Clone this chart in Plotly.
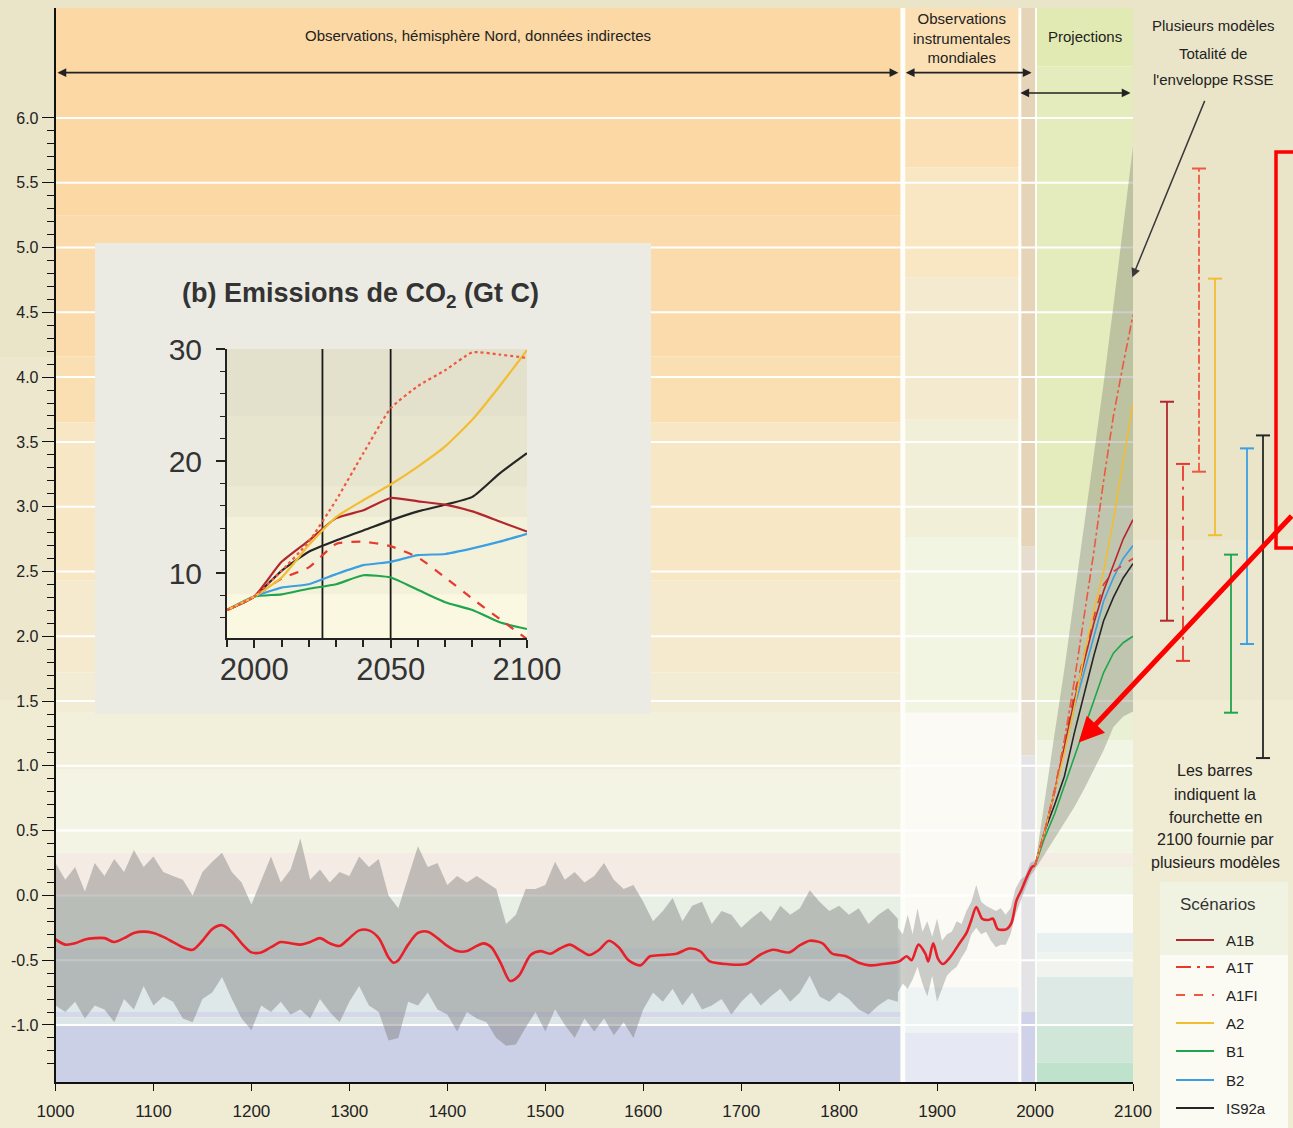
import plotly.graph_objects as go

W, H = 1293, 1128
FONT = "Liberation Sans, Arial, sans-serif"

# ------------------------------------------------------------------ data
# Smoothed northern-hemisphere reconstruction + instrumental record (red line)
recon_years = [1000, 1010, 1020, 1030, 1040, 1050, 1060, 1070, 1080, 1090, 1100, 1110,
               1120, 1130, 1140, 1150, 1160, 1170, 1180, 1190, 1200, 1210, 1220, 1230,
               1240, 1250, 1260, 1270, 1280, 1290, 1300, 1310, 1320, 1330, 1340, 1345,
               1350, 1360, 1370, 1380, 1390, 1400, 1410, 1420, 1430, 1437, 1445, 1455,
               1464, 1473, 1485, 1495, 1505, 1515, 1525, 1535, 1545, 1555, 1565, 1575,
               1585, 1597, 1607, 1620, 1634, 1647, 1658, 1668, 1685, 1705, 1719, 1732,
               1749, 1759, 1770, 1783, 1793, 1807, 1820, 1831, 1844, 1861, 1869, 1874,
               1881, 1888, 1891, 1896, 1901, 1906, 1913, 1922, 1930, 1935, 1940, 1946,
               1952, 1957, 1962, 1971, 1976, 1981, 1986, 1991, 1997, 2000]
recon_values = [-0.34, -0.38, -0.37, -0.34, -0.33, -0.33, -0.36, -0.33, -0.29, -0.28, -0.29, -0.32,
                -0.36, -0.40, -0.42, -0.35, -0.26, -0.23, -0.28, -0.37, -0.44, -0.44, -0.40, -0.36,
                -0.37, -0.38, -0.36, -0.33, -0.37, -0.39, -0.33, -0.27, -0.27, -0.33, -0.48, -0.52,
                -0.50, -0.38, -0.29, -0.28, -0.33, -0.39, -0.43, -0.43, -0.39, -0.37, -0.40, -0.53,
                -0.66, -0.62, -0.46, -0.43, -0.45, -0.41, -0.38, -0.42, -0.46, -0.42, -0.35, -0.40,
                -0.50, -0.54, -0.47, -0.46, -0.45, -0.41, -0.43, -0.51, -0.53, -0.53, -0.46, -0.42,
                -0.44, -0.39, -0.35, -0.37, -0.45, -0.47, -0.52, -0.54, -0.53, -0.51, -0.47, -0.50,
                -0.38, -0.45, -0.51, -0.37, -0.49, -0.53, -0.48, -0.38, -0.29, -0.19, -0.09, -0.18,
                -0.19, -0.18, -0.26, -0.26, -0.21, -0.04, 0.04, 0.13, 0.22, 0.23]

# Uncertainty envelope of the proxy reconstruction (grey band)
paleo_years = list(range(1000, 1861, 10))
paleo_upper = [0.25, 0.12, 0.22, 0.03, 0.25, 0.15, 0.28, 0.18, 0.35, 0.22, 0.30, 0.18,
               0.15, 0.12, 0.00, 0.18, 0.26, 0.33, 0.18, 0.10, -0.07, 0.12, 0.30, 0.10,
               0.20, 0.44, 0.12, 0.20, 0.10, 0.18, 0.15, 0.30, 0.22, 0.28, 0.00, -0.10,
               0.15, 0.38, 0.22, 0.25, 0.08, 0.15, 0.10, 0.15, 0.10, 0.05, -0.22, -0.15,
               0.05, 0.05, 0.08, 0.26, 0.12, 0.18, 0.10, 0.15, 0.25, 0.12, 0.05, 0.08,
               -0.05, -0.20, -0.12, -0.02, -0.20, -0.08, -0.05, -0.22, -0.12, -0.15, -0.25, -0.18,
               -0.12, -0.20, -0.08, -0.15, -0.10, 0.04, -0.05, -0.12, -0.08, -0.15, -0.10, -0.22,
               -0.15, -0.10, -0.18]
paleo_lower = [-0.85, -0.90, -0.82, -0.95, -0.85, -0.88, -0.98, -0.80, -0.88, -0.70, -0.85, -0.78,
               -0.82, -0.95, -0.98, -0.80, -0.75, -0.63, -0.80, -0.95, -1.04, -0.85, -0.90, -0.82,
               -0.92, -0.88, -0.95, -0.80, -0.90, -0.98, -0.82, -0.70, -0.85, -0.90, -1.12, -1.10,
               -0.82, -0.85, -0.75, -0.88, -0.92, -1.05, -0.90, -0.95, -0.98, -1.10, -1.16, -1.15,
               -1.02, -0.90, -1.05, -0.88, -1.00, -1.10, -0.95, -1.05, -0.95, -1.08, -0.98, -1.10,
               -0.88, -0.75, -0.82, -0.72, -0.85, -0.75, -0.88, -0.85, -0.80, -0.92, -0.82, -0.75,
               -0.85, -0.78, -0.72, -0.82, -0.75, -0.62, -0.78, -0.82, -0.75, -0.80, -0.88, -0.92,
               -0.85, -0.80, -0.82]

# Instrumental-period spread (grey)
instr_years = [1860, 1865, 1870, 1875, 1880, 1885, 1890, 1895, 1900, 1905, 1910, 1915, 1920,
               1925, 1930, 1935, 1940, 1945, 1950, 1955, 1960, 1965, 1970, 1975, 1980, 1985,
               1990, 1995, 2000]
instr_upper = [-0.25, -0.30, -0.15, -0.30, -0.10, -0.28, -0.20, -0.32, -0.18, -0.35, -0.30, -0.28,
               -0.20, -0.22, -0.12, -0.05, 0.08, -0.05, -0.08, -0.10, -0.12, -0.10, -0.15, -0.10,
               0.05, 0.12, 0.15, 0.25, 0.27]
instr_lower = [-0.75, -0.68, -0.72, -0.65, -0.55, -0.68, -0.78, -0.62, -0.82, -0.72, -0.62, -0.58,
               -0.55, -0.48, -0.42, -0.30, -0.25, -0.30, -0.28, -0.35, -0.40, -0.38, -0.38, -0.30,
               -0.15, -0.05, 0.05, 0.15, 0.20]

# Projections 2000-2100: full multi-model SRES envelope and scenario means
proj_years = [2000, 2010, 2020, 2030, 2040, 2050, 2060, 2070, 2080, 2090, 2100]
proj_upper = [0.23, 0.75, 1.25, 1.75, 2.30, 2.85, 3.40, 3.95, 4.55, 5.15, 5.78]
proj_lower = [0.20, 0.32, 0.43, 0.56, 0.68, 0.82, 0.97, 1.12, 1.30, 1.38, 1.42]
proj_A1B = [0.23, 0.50, 0.80, 1.15, 1.50, 1.80, 2.10, 2.35, 2.55, 2.75, 2.90]
proj_A1T = [0.23, 0.50, 0.82, 1.18, 1.55, 1.85, 2.15, 2.40, 2.50, 2.55, 2.60]
proj_A1FI = [0.23, 0.50, 0.80, 1.20, 1.65, 2.15, 2.65, 3.20, 3.70, 4.10, 4.48]
proj_A2 = [0.23, 0.50, 0.80, 1.10, 1.45, 1.85, 2.20, 2.50, 2.90, 3.35, 3.80]
proj_B1 = [0.23, 0.45, 0.63, 0.85, 1.07, 1.28, 1.50, 1.72, 1.87, 1.95, 2.00]
proj_B2 = [0.23, 0.50, 0.80, 1.12, 1.45, 1.72, 2.00, 2.27, 2.45, 2.60, 2.70]
proj_IS92a = [0.23, 0.50, 0.70, 0.92, 1.25, 1.55, 1.85, 2.12, 2.30, 2.45, 2.56]

# Ranges in 2100 given by several models (bars)
scenario_names = ["A1B", "A1T", "A1FI", "A2", "B1", "B2", "IS92a"]
bar_low = [2.12, 1.81, 3.27, 2.78, 1.41, 1.94, 1.06]
bar_high = [3.81, 3.33, 5.61, 4.76, 2.63, 3.45, 3.55]

# Inset (b): CO2 emissions (Gt C)
co2_years = [1990, 2000, 2010, 2020, 2030, 2040, 2050, 2060, 2070, 2080, 2090, 2100]
co2_A1B = [6.7, 7.9, 11.0, 12.9, 14.9, 15.6, 16.7, 16.4, 16.1, 15.5, 14.6, 13.7]
co2_A1T = [6.7, 7.9, 9.5, 10.5, 12.6, 12.8, 12.4, 11.4, 9.6, 7.7, 5.9, 4.1]
co2_A1FI = [6.7, 7.9, 10.2, 12.8, 16.5, 20.7, 24.7, 26.7, 28.1, 29.7, 29.5, 29.2]
co2_A2 = [6.7, 7.9, 9.6, 12.5, 15.0, 16.5, 17.9, 19.5, 21.3, 23.7, 26.7, 29.9]
co2_B1 = [6.7, 7.9, 8.1, 8.6, 9.0, 9.8, 9.6, 8.5, 7.4, 6.7, 5.6, 5.0]
co2_B2 = [6.7, 7.9, 8.7, 9.0, 9.9, 10.7, 11.0, 11.6, 11.7, 12.2, 12.8, 13.5]
co2_IS92a = [6.7, 7.9, 10.2, 11.9, 12.9, 13.8, 14.7, 15.5, 16.1, 16.8, 18.9, 20.7]
co2_marker_years = [2025, 2050]

# Tick labels
x_tick_vals = [1000, 1100, 1200, 1300, 1400, 1500, 1600, 1700, 1800, 1900, 2000, 2100]
x_tick_text = ["1000", "1100", "1200", "1300", "1400", "1500", "1600", "1700", "1800",
               "1900", "2000", "2100"]
y_tick_vals = [-1.0, -0.5, 0.0, 0.5, 1.0, 1.5, 2.0, 2.5, 3.0, 3.5, 4.0, 4.5, 5.0, 5.5, 6.0]
y_tick_text = ["-1.0", "-0.5", "0.0", "0.5", "1.0", "1.5", "2.0", "2.5", "3.0", "3.5",
               "4.0", "4.5", "5.0", "5.5", "6.0"]
inset_x_ticks = [2000, 2050, 2100]
inset_y_ticks = [10, 20, 30]

# ------------------------------------------------------------------ styles
scen_style = {
    "A1B": dict(color="#b3262d", dash="solid"),
    "A1T": dict(color="#e8392e", dash="dash"),
    "A1FI": dict(color="#ef5840", dash="dashdot"),
    "A2": dict(color="#f2bd32", dash="solid"),
    "B1": dict(color="#1fa54d", dash="solid"),
    "B2": dict(color="#3b9fe1", dash="solid"),
    "IS92a": dict(color="#262626", dash="solid"),
}
bar_dash = {"A1T": "longdashdot", "A1FI": "dashdot"}
legend_dash = {"A1T": "longdashdot", "A1FI": "dash"}
inset_dash = {"A1T": "dash", "A1FI": "dot"}

# geometry (pixels of the 1293x1128 canvas)
X0, X1 = 55.5 / W, 1133 / W
Y0, Y1 = (H - 1082) / H, (H - 8) / H
YMIN, YMAX = -1.4402, 6.8488
IX0, IX1 = 227 / W, 527 / W
IY0, IY1 = (H - 638) / H, (H - 349) / H
IYMIN, IYMAX = 4.2, 30.0


def vp(v):
    """main-axis value -> paper y (for background decorations)"""
    return Y0 + (v - YMIN) / (YMAX - YMIN) * (Y1 - Y0)


def ivp(v):
    return IY0 + (v - IYMIN) / (IYMAX - IYMIN) * (IY1 - IY0)


def px(x):
    return x / W


def py(y):
    return 1 - y / H


fig = go.Figure()

# ------------------------------------------------------------------ main traces
GREY = "rgba(118,118,118,0.42)"
for xs, lo, hi, col in [(paleo_years, paleo_lower, paleo_upper, GREY),
                        (instr_years, instr_lower, instr_upper, "rgba(125,125,125,0.38)"),
                        (proj_years, proj_lower, proj_upper, "rgba(125,125,115,0.38)")]:
    fig.add_trace(go.Scatter(x=xs, y=lo, mode="lines", line=dict(width=0),
                             hoverinfo="skip", showlegend=False))
    fig.add_trace(go.Scatter(x=xs, y=hi, mode="lines", line=dict(width=0), fill="tonexty",
                             fillcolor=col, hoverinfo="skip", showlegend=False))

fig.add_trace(go.Scatter(x=recon_years, y=recon_values, mode="lines",
                         line=dict(color="#e8202a", width=2.6, shape="spline", smoothing=0.8),
                         name="Observations", showlegend=False))

proj_series = [("B1", proj_B1), ("IS92a", proj_IS92a), ("B2", proj_B2), ("A1T", proj_A1T),
               ("A1B", proj_A1B), ("A2", proj_A2), ("A1FI", proj_A1FI)]
for name, vals in proj_series:
    st = scen_style[name]
    fig.add_trace(go.Scatter(x=proj_years, y=vals, mode="lines", name=name,
                             line=dict(color=st["color"], width=1.6, dash=st["dash"]),
                             showlegend=False))

# ------------------------------------------------------------------ 2100 range bars
for i, name in enumerate(scenario_names):
    st = scen_style[name]
    fig.add_trace(go.Scatter(
        x=[i + 1, i + 1], y=[bar_low[i], bar_high[i]], xaxis="x2", yaxis="y",
        mode="lines+markers", name=name, showlegend=False,
        line=dict(color=st["color"], width=1.8, dash=bar_dash.get(name, "solid")),
        marker=dict(symbol="line-ew", size=10, color=st["color"],
                    line=dict(color=st["color"], width=2))))

# ------------------------------------------------------------------ inset traces
inset_series = [("B1", co2_B1), ("B2", co2_B2), ("A1T", co2_A1T), ("IS92a", co2_IS92a),
                ("A1B", co2_A1B), ("A2", co2_A2), ("A1FI", co2_A1FI)]
for name, vals in inset_series:
    st = scen_style[name]
    fig.add_trace(go.Scatter(x=co2_years, y=vals, xaxis="x3", yaxis="y3", mode="lines",
                             name=name, showlegend=False,
                             line=dict(color=st["color"], width=2.2,
                                       dash=inset_dash.get(name, "solid"),
                                       shape="spline", smoothing=0.5)))

# ------------------------------------------------------------------ background shapes
shapes = []


def rect(xref, yref, x0, x1, y0, y1, color, layer="below"):
    shapes.append(dict(type="rect", xref=xref, yref=yref, x0=x0, x1=x1, y0=y0, y1=y1,
                       fillcolor=color, line=dict(width=0), layer=layer))


# page tints
rect("paper", "paper", 0, 1, 0, py(700), "#f0ebd3")
rect("paper", "paper", X1, 1, py(700), py(540), "#ece8cf")
rect("paper", "paper", 0, X0, py(700), py(357), "#ece7cd")
# white plot area (visible through the gaps between the columns)
rect("paper", "paper", X0, X1, Y0, Y1, "#fdfdf9")

colA = [(6.85, 5.25, "#fbd8a4"), (5.25, 4.16, "#fbdbab"), (4.16, 3.65, "#fadfb2"),
        (3.65, 2.43, "#f8e7c5"), (2.43, 1.72, "#f5eace"), (1.72, 1.41, "#f3ecd5"),
        (1.41, 0.97, "#f2efda"), (0.97, 0.33, "#f3f4e3"), (0.33, 0.0, "#f4ece4"),
        (0.0, -0.40, "#e8f0e6"), (-0.40, -0.90, "#dfe8e8"), (-0.90, -0.94, "#d5d8ea"),
        (-0.94, -0.99, "#dce6e6"), (-0.99, -1.45, "#ccd0e6")]
colB = [(6.85, 5.62, "#fbe0b5"), (5.62, 4.77, "#f9e6c3"), (4.77, 3.67, "#f4ead0"),
        (3.67, 2.76, "#f2efd8"), (2.76, 1.41, "#f3f5e3"), (1.41, -0.71, "#fbfaf5"),
        (-0.71, -1.06, "#eef3f3"), (-1.06, -1.45, "#e6e8f3")]
colC = [(6.85, 2.69, "#e5d4b8"), (2.69, 1.08, "#e6ddcf"), (1.08, -0.90, "#e4e4e7"),
        (-0.90, -1.45, "#cfd2e8")]
colD = [(6.85, 6.4, "#e2eab4"), (6.4, 3.0, "#e4ecbd"), (3.0, 1.20, "#e9f0d3"),
        (1.20, 0.33, "#f1f5e3"), (0.33, 0.22, "#f3ede3"), (0.22, -0.01, "#f0f4e4"),
        (-0.01, -0.29, "#fbfbf7"), (-0.29, -0.44, "#e8f0f0"), (-0.44, -0.63, "#f0f4ee"),
        (-0.63, -1.0, "#dde9e4"), (-1.0, -1.29, "#cfe6d8"), (-1.29, -1.45, "#bfe2cc")]
for (xa, xb), bands in [((1000, 1862.5), colA), ((1867.5, 1983), colB),
                        ((1986, 2000), colC), ((2002, 2100), colD)]:
    for hi, lo, c in bands:
        rect("x", "paper", xa, xb, max(vp(lo), Y0), min(vp(hi), Y1), c)

# white horizontal grid lines (interrupted by the inset panel)
INSET_L, INSET_R = 1040.3, 1607.9
for v in y_tick_vals:
    segs = [(1000, 2100)]
    if 1.4 < v < 5.05:
        segs = [(1000, INSET_L), (INSET_R, 2100)]
    for a, b in segs:
        shapes.append(dict(type="line", xref="x", yref="paper", x0=a, x1=b, y0=vp(v), y1=vp(v),
                           line=dict(color="white", width=2), layer="below"))

# inset panel and its plot-area shading
rect("paper", "paper", px(95), px(651), py(714), py(243), "#ecebe3")
inset_bands = [(30, 24, "#e3e0cb"), (24, 17.7, "#e8e5cf"), (17.7, 15, "#edead3"),
               (15, 8.1, "#f4f1da"), (8.1, 4.2, "#fbf8e1")]
for hi, lo, c in inset_bands:
    rect("x3", "paper", 1990, 2100, ivp(lo), ivp(hi), c)
for yr in co2_marker_years:
    shapes.append(dict(type="line", xref="x3", yref="y3", x0=yr, x1=yr, y0=IYMIN, y1=IYMAX,
                       line=dict(color="#1a1a1a", width=1.8), layer="below"))

# legend box tint
rect("paper", "paper", px(1160), px(1288), py(955), py(882), "#f1f3e2")
rect("paper", "paper", px(1160), px(1288), 0, py(955), "#fbfaf3")

# red highlight rectangle (annotation on the original)
shapes.append(dict(type="rect", xref="paper", yref="paper", x0=px(1276), x1=px(1310),
                   y0=py(548), y1=py(152), line=dict(color="#ff0000", width=3.5),
                   fillcolor="rgba(0,0,0,0)", layer="above"))

# custom legend samples
legend_y = [940, 967, 995, 1023, 1051, 1080, 1108]
for name, yy in zip(scenario_names, legend_y):
    st = scen_style[name]
    shapes.append(dict(type="line", xref="paper", yref="paper", x0=px(1176), x1=px(1214),
                       y0=py(yy), y1=py(yy), layer="above",
                       line=dict(color=st["color"], width=2, dash=legend_dash.get(name, "solid"))))

# ------------------------------------------------------------------ annotations
ann = []


def text(x, y, s, size=15, xanchor="center", color="#222", bold=False):
    ann.append(dict(xref="paper", yref="paper", x=px(x), y=py(y), text=("<b>%s</b>" % s) if bold else s,
                    showarrow=False, xanchor=xanchor, yanchor="middle",
                    font=dict(family=FONT, size=size, color=color)))


text(478, 35, "Observations, hémisphère Nord, données indirectes", 15)
text(962, 38, "Observations<br>instrumentales<br>mondiales", 15)
text(1085, 37, "Projections", 15)
text(1213, 25, "Plusieurs modèles", 15)
text(1213, 53, "Totalité de", 15)
text(1213, 80, "l'enveloppe RSSE", 15)
for line_txt, yy in zip(["Les barres", "indiquent la", "fourchette en",
                         "2100 fournie par", "plusieurs modèles"],
                        [771, 794, 817, 839, 862]):
    text(1215, yy, line_txt, 16)
text(1218, 904, "Scénarios", 17, color="#333")
for name, yy in zip(scenario_names, legend_y):
    text(1224, yy, name, 15, xanchor="left")
text(360, 295, "(b) Emissions de CO<sub>2</sub> (Gt C)", 27, color="#333", bold=True)

# double-headed period arrows
for xa, xb, yv in [(1002, 1862, 6.35), (1868, 1998, 6.35), (1985, 2099, 6.193)]:
    ann.append(dict(xref="x", yref="y", axref="x", ayref="y", x=xa, y=yv, ax=xb, ay=yv,
                    text="", showarrow=True, arrowside="end+start", arrowhead=2,
                    startarrowhead=2, arrowsize=1.1, startarrowsize=1.1, arrowwidth=1.6,
                    arrowcolor="#222"))
# pointer to the envelope
ann.append(dict(xref="x", yref="y", x=2099.3, y=4.77, ax=73, ay=-178, text="",
                showarrow=True, arrowhead=2, arrowsize=1.2, arrowwidth=1.5,
                arrowcolor="#3a3a3a"))
# red arrow
ann.append(dict(xref="x", yref="y", x=2044.6, y=1.18, ax=215, ay=-228, text="",
                showarrow=True, arrowhead=2, arrowsize=1.0, arrowwidth=5,
                arrowcolor="#ff0000"))

# ------------------------------------------------------------------ layout
fig.update_layout(
    template="none",
    width=W, height=H, margin=dict(l=0, r=0, t=0, b=0, pad=0, autoexpand=False),
    paper_bgcolor="#eae5c9", plot_bgcolor="rgba(0,0,0,0)",
    showlegend=False, shapes=shapes, annotations=ann,
    font=dict(family=FONT, color="#222"),
    xaxis=dict(domain=[X0, X1], range=[1000, 2100], anchor="y", automargin=False,
               tickmode="array", tickvals=x_tick_vals, ticktext=x_tick_text,
               ticks="outside", ticklen=7, tickwidth=1.4, tickcolor="#111",
               showline=True, linecolor="#111", linewidth=1.6,
               showgrid=False, zeroline=False, ticklabelstandoff=6,
               tickfont=dict(family=FONT, size=17, color="#222")),
    yaxis=dict(domain=[Y0, Y1], range=[YMIN, YMAX], anchor="x", automargin=False,
               tickmode="array", tickvals=y_tick_vals, ticktext=y_tick_text,
               ticks="outside", ticklen=12, tickwidth=1.4, tickcolor="#111",
               minor=dict(tickmode="array",
                          tickvals=[round(-1.3 + 0.1 * k, 1) for k in range(74)],
                          ticks="outside", ticklen=7, tickwidth=1.1, tickcolor="#111",
                          showgrid=False),
               showline=True, linecolor="#111", linewidth=1.6,
               showgrid=False, zeroline=False,
               tickfont=dict(family=FONT, size=16, color="#222")),
    xaxis2=dict(domain=[X1, 1], range=[-1.125, 8.875], anchor="y", visible=False,
                automargin=False),
    xaxis3=dict(domain=[IX0, IX1], range=[1990, 2100], anchor="y3", automargin=False,
                tickmode="array", tickvals=inset_x_ticks, ticks="outside", ticklen=8,
                tickwidth=1.8, tickcolor="#222",
                minor=dict(tick0=1990, dtick=10, ticks="outside", ticklen=7, tickwidth=1.5,
                           tickcolor="#222", showgrid=False),
                showline=True, linecolor="#222", linewidth=2, showgrid=False, zeroline=False,
                ticklabelstandoff=-5,
                tickfont=dict(family=FONT, size=31, color="#333")),
    yaxis3=dict(domain=[IY0, IY1], range=[IYMIN, IYMAX], anchor="x3", automargin=False,
                tickmode="array", tickvals=inset_y_ticks, ticks="outside", ticklen=9,
                tickwidth=1.8, tickcolor="#222",
                minor=dict(tick0=0, dtick=2, ticks="outside", ticklen=5, tickwidth=1.3,
                           tickcolor="#222", showgrid=False),
                showline=True, linecolor="#222", linewidth=2, showgrid=False, zeroline=False,
                ticklabelstandoff=8,
                tickfont=dict(family=FONT, size=30, color="#333")),
)

fig.write_html("out.html", config={"displayModeBar": False},
               post_script="document.body.style.margin='0';")
